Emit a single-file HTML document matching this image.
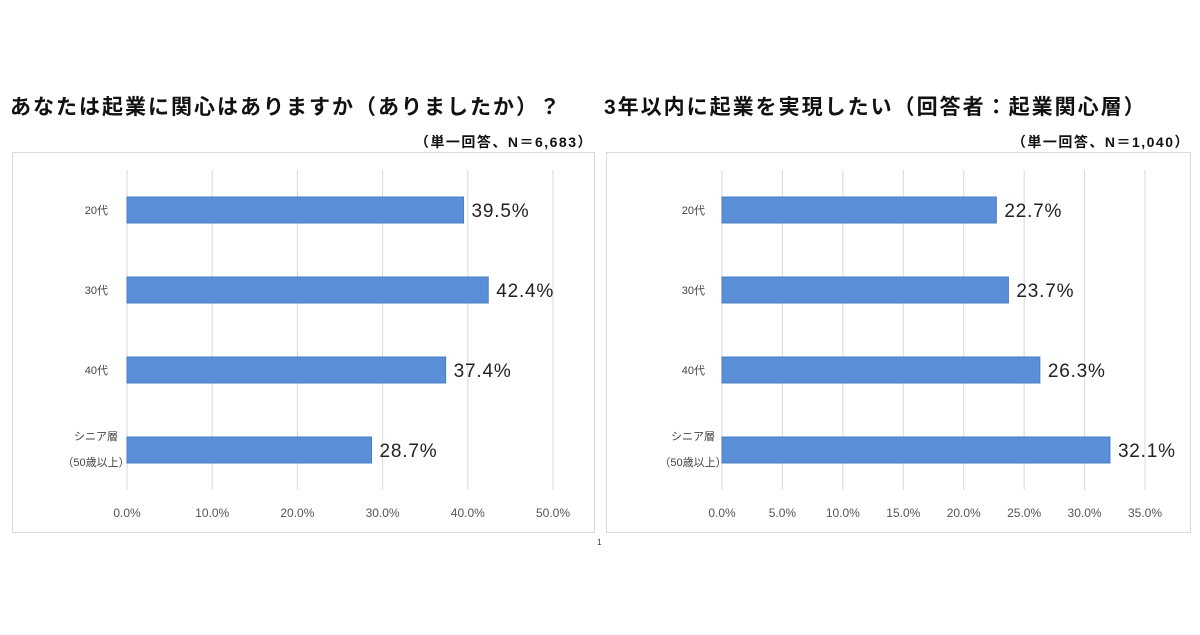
<!DOCTYPE html>
<html><head><meta charset="utf-8"><style>
body{margin:0;width:1200px;height:630px;background:#fff;overflow:hidden;font-family:"Liberation Sans","Noto Sans CJK JP",sans-serif}
svg text{font-family:"Liberation Sans","Noto Sans CJK JP",sans-serif}
</style></head><body>
<svg width="1200" height="630">
<text x="10" y="114" font-size="21" letter-spacing="2" font-weight="bold" fill="#111">あなたは起業に関心はありますか（ありましたか）？</text>
<text x="593" y="147" font-size="14" letter-spacing="1.5" font-weight="bold" fill="#111" text-anchor="end">（単一回答、N＝6,683）</text>
<text x="604" y="114" font-size="21" letter-spacing="2" font-weight="bold" fill="#111">3年以内に起業を実現したい（回答者：起業関心層）</text>
<text x="1190" y="147" font-size="14" letter-spacing="1.5" font-weight="bold" fill="#111" text-anchor="end">（単一回答、N＝1,040）</text>
<rect x="12.5" y="152.5" width="582" height="380" fill="#fff" stroke="#d9d9d9"/>
<rect x="606.5" y="152.5" width="584" height="380" fill="#fff" stroke="#d9d9d9"/>
<g id="left"></g>
<g id="right"></g>
<text x="597" y="545" font-size="8" fill="#333">1</text>
</svg>
<script>
const categories=["20代","30代","40代","シニア層"];
const leftValues=[39.5,42.4,37.4,28.7];
const rightValues=[22.7,23.7,26.3,32.1];
const leftTicks=[0,10,20,30,40,50];
const rightTicks=[0,5,10,15,20,25,30,35];
const NS="http://www.w3.org/2000/svg";
function mk(g,tag,attrs){const e=document.createElementNS(NS,tag);for(const k in attrs)e.setAttribute(k,attrs[k]);g.appendChild(e);return e;}
function draw(id,vals,ticks,x0,x1,labelX){
  const g=document.getElementById(id);
  const max=ticks[ticks.length-1];
  const xs=v=>x0+(x1-x0)*v/max;
  const ys=i=>210+i*80;
  ticks.forEach(t=>{
    const l=mk(g,'line',{x1:xs(t),x2:xs(t),y1:170,y2:490,stroke:'#d9d9d9','stroke-width':1});
    
    
    const tx=mk(g,'text',{x:xs(t),y:517,'font-size':12,fill:'#555','text-anchor':'middle'});
    tx.textContent=t.toFixed(1)+'%';
    
    
  });
  vals.forEach((v,i)=>{
    const b=mk(g,'rect',{x:xs(0),y:ys(i)-13,width:xs(v)-xs(0),height:26,fill:'#5a8ed6',stroke:'#4a7dc6'});
    
    
    const t=mk(g,'text',{x:xs(v)+8,y:ys(i)+7,'font-size':19,'letter-spacing':0.8,fill:'#222'});
    t.textContent=v.toFixed(1)+'%';
    
    
    if(i<3){
      const c=mk(g,'text',{x:labelX,y:ys(i)+4,'font-size':11,fill:'#444','text-anchor':'end'});
      c.textContent=categories[i];
      
      
    }else{
      const c=mk(g,'text',{x:labelX-12,y:ys(i)-10,'font-size':11,fill:'#444','text-anchor':'middle'});
      c.textContent=categories[i];
      
      
      const c2=mk(g,'text',{x:labelX-12,y:ys(i)+16,'font-size':11,fill:'#444','text-anchor':'middle'});
      c2.textContent='（50歳以上）';
      
      
    }
  });
}
draw('left',leftValues,leftTicks,127,553,108);
draw('right',rightValues,rightTicks,722,1145,705);
</script>
</body></html>
